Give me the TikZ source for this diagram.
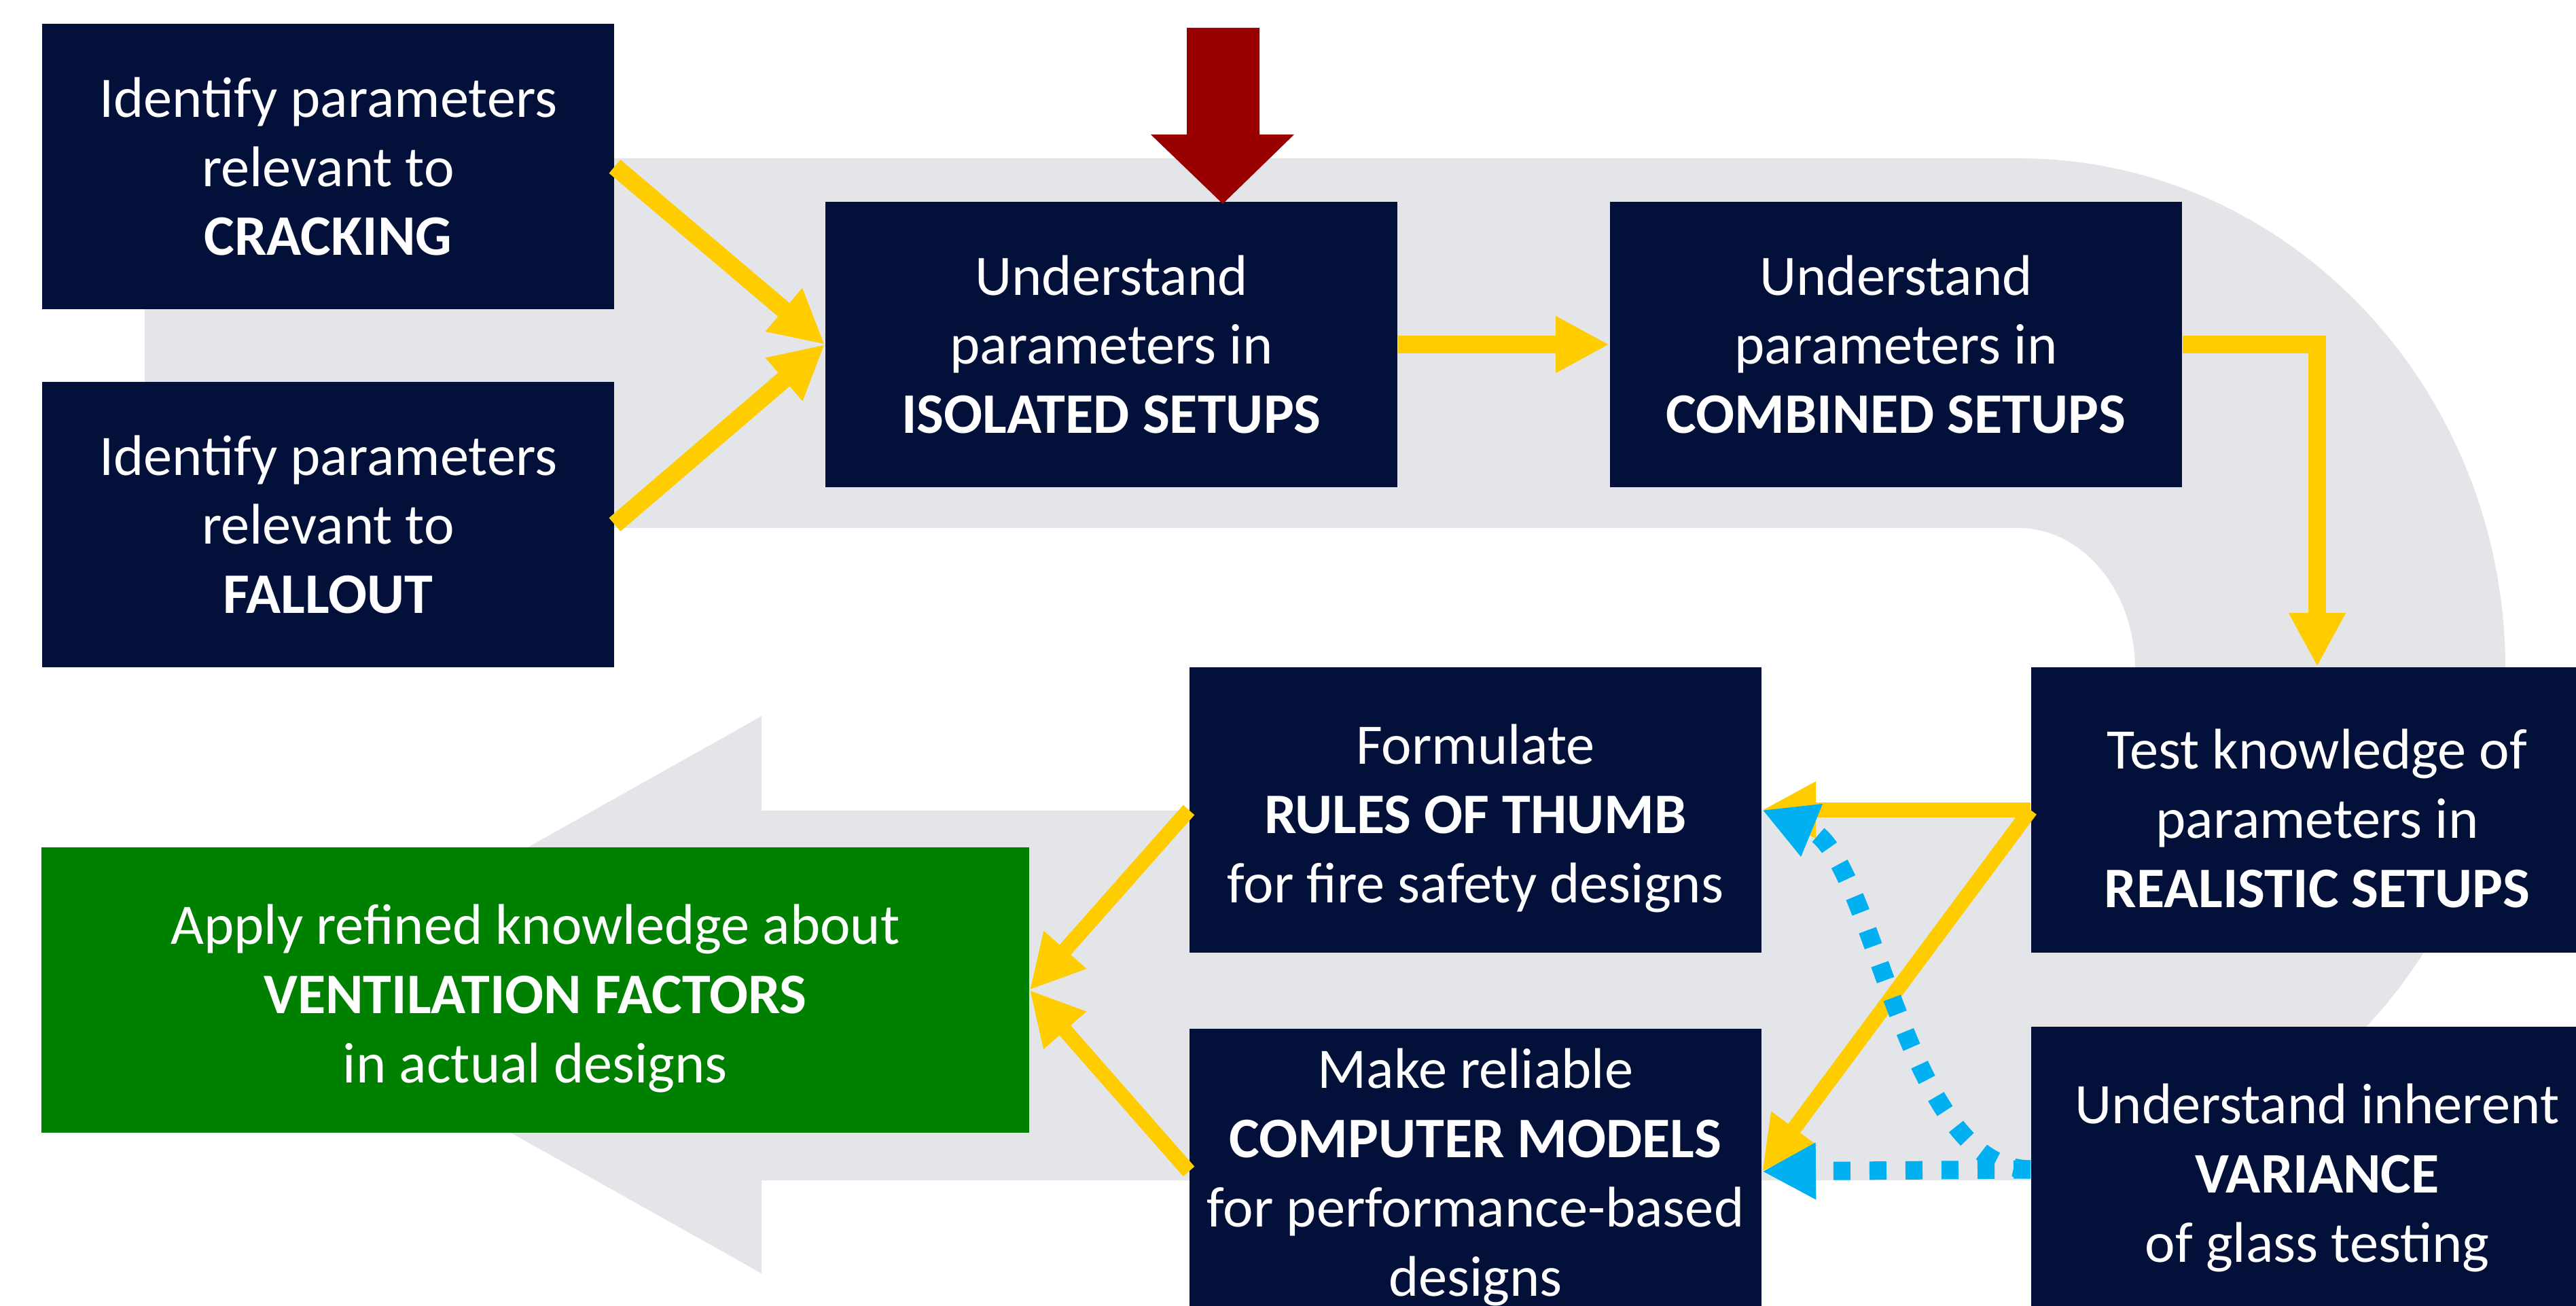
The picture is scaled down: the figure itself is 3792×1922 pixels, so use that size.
\documentclass[tikz,border=0pt]{standalone}
\usepackage{fontspec}
\setmainfont{Carlito}
\usetikzlibrary{arrows.meta}
\definecolor{navy}{RGB}{3,17,58}
\definecolor{gold}{RGB}{255,204,0}
\definecolor{skyblue}{RGB}{0,176,240}
\definecolor{band}{RGB}{228,229,233}
\definecolor{leafgreen}{RGB}{0,128,0}
\definecolor{darkred}{RGB}{153,0,0}
% taller first line, pushes a text block slightly down in its box
\newcommand{\lowstrut}[1][0.83cm]{\rule{0pt}{#1}}
\begin{document}
\begin{tikzpicture}[x=0.01cm,y=-0.01cm,
  box/.style={fill=navy, text=white, inner sep=0pt, minimum width=8.42cm,
    minimum height=4.2cm, align=center, font=\fontsize{24}{29}\selectfont},
  goal/.style={box, fill=leafgreen, minimum width=14.53cm},
  flow/.style={draw=gold, line width=0.26cm,
    -{Triangle[length=0.79cm,width=0.78cm]}},
  flowthin/.style={flow, line width=0.22cm},
  vary/.style={draw=skyblue, line width=0.27cm,
    dash pattern=on 0.25cm off 0.28cm,
    -{Triangle[length=0.79cm,width=0.78cm]}}]
\path[use as bounding box, clip] (0,0) rectangle (3792,1922);
\fill[white] (0,0) rectangle (3792,1922);

% U-turn band behind the flow
\fill[band] (213,233) -- (2971,233)
  .. controls (3367,233) and (3688,570) .. (3688,985)
  .. controls (3688,1400) and (3367,1737) .. (2971,1737)
  -- (1121,1737) -- (1121,1874) -- (390,1464) -- (1121,1054) -- (1121,1193)
  -- (2971,1193)
  .. controls (3066,1193) and (3143,1100) .. (3143,985)
  .. controls (3143,870) and (3066,777) .. (2971,777)
  -- (213,777) -- cycle;

% boxes
\node[box] (crack) at (483,245) {Identify parameters\\relevant to\\\textbf{CRACKING}};
\node[box] (fall) at (483,772) {Identify parameters\\relevant to\\\textbf{FALLOUT}};
\node[box] (iso) at (1636,507) {Understand\\parameters in\\\textbf{ISOLATED SETUPS}};
\node[box] (comb) at (2791,507) {Understand\\parameters in\\\textbf{COMBINED SETUPS}};
\node[box] (real) at (3411,1192) {\lowstrut Test knowledge of\\parameters in\\\textbf{REALISTIC SETUPS}};
\node[box] (rules) at (2172,1192) {\lowstrut Formulate\\\textbf{RULES OF THUMB}\\for fire safety designs};
\node[box] (comp) at (2172,1724) {\lowstrut[0.75cm]Make reliable\\\textbf{COMPUTER MODELS}\\for performance-based\\designs};
\node[box] (var) at (3411,1721) {\lowstrut Understand inherent\\\textbf{VARIANCE}\\of glass testing};
\node[goal] (apply) at (788,1457) {\lowstrut Apply refined knowledge about\\\textbf{VENTILATION FACTORS}\\in actual designs};

% main flow
\draw[flow] (crack.east) -- (iso.west);
\draw[flow] (fall.east) -- (iso.west);
\draw[flow] (iso.east) -- (comb.west);
\draw[flow] (comb.east) -| (real.north);
\draw[flowthin] (real.west) -- (rules.east);
\draw[flowthin] (real.west) -- (comp.east);
\draw[flowthin] (rules.west) -- (apply.east);
\draw[flowthin] (comp.west) -- (apply.east);

% variance feedback
\draw[vary] (var.west) -- (comp.east);
\draw[vary] (var.west) .. controls (2800,1720) and (2760,1260) .. (rules.east);

% entry arrow
\fill[darkred] (1747,41) -- (1854,41) -- (1854,198) -- (1905,198)
  -- (1800,300) -- (1694,198) -- (1747,198) -- cycle;
\end{tikzpicture}
\end{document}
